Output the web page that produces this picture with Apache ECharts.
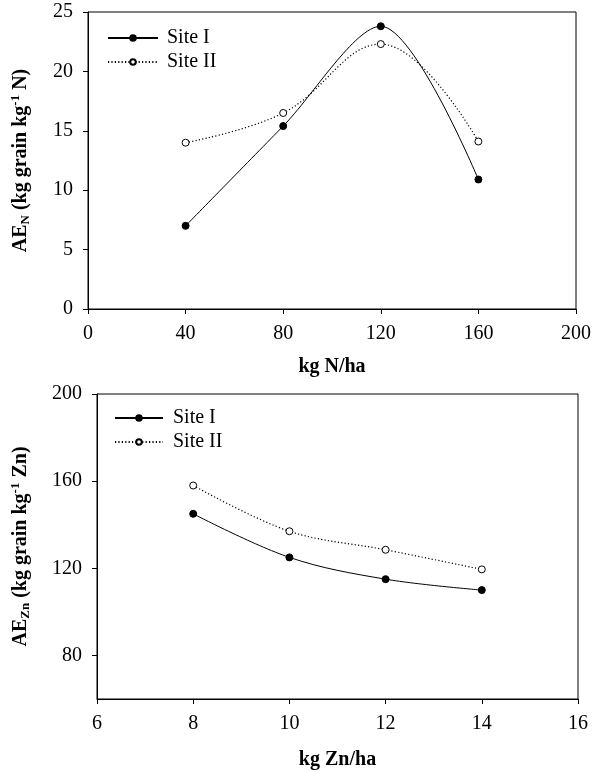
<!DOCTYPE html>
<html>
<head>
<meta charset="utf-8">
<script src="https://cdn.jsdelivr.net/npm/echarts@6/dist/echarts.min.js"></script>
<style>
html,body{margin:0;padding:0;background:#fff;}
#c{width:594px;height:771px;}
</style>
</head>
<body>
<div id="c"></div>
<script>
// Top panel: agronomic efficiency of N
const nRates = [40, 80, 120, 160];
const aeN_site1 = [7.0, 15.4, 23.8, 10.9];
const aeN_site2 = [14.0, 16.5, 22.3, 14.1];
// Bottom panel: agronomic efficiency of Zn
const znRates = [8, 10, 12, 14];
const aeZn_site1 = [145, 125, 115, 110];
const aeZn_site2 = [158, 137, 128.5, 119.5];
const znYTicks = [80, 120, 160, 200];
const seriesNames = ['Site I', 'Site II'];

const FONT = 'Liberation Serif';
const pair = (xs, ys) => xs.map((x, i) => [x, ys[i]]);

const rich = {
  b: {fontFamily: FONT, fontSize: 20, fontWeight: 'bold', color: '#000'},
  sub: {fontFamily: FONT, fontSize: 13, fontWeight: 'bold', color: '#000', padding: [10, 0, 0, 0]},
  sup: {fontFamily: FONT, fontSize: 13, fontWeight: 'bold', color: '#000', padding: [0, 0, 10, 0]}
};

const axisLine = {show: true, lineStyle: {color: '#000', width: 1}};
const axisTick = {show: true, inside: false, length: 5, lineStyle: {color: '#000'}};
const axisLabel = {fontFamily: FONT, fontSize: 20, color: '#000', margin: 15};
const nameStyle = {fontFamily: FONT, fontSize: 20, fontWeight: 'bold', color: '#000'};

function lineSeries(name, data, xi, solid, smooth) {
  return {
    type: 'line', name: name, xAxisIndex: xi, yAxisIndex: xi, data: data,
    smooth: smooth, symbol: 'circle', symbolSize: 7,
    lineStyle: solid ? {color: '#000', width: 1, type: 'solid'} : {color: '#000', width: 1.2, type: [1.2, 2.2]},
    itemStyle: solid ? {color: '#000', borderColor: '#000', borderWidth: 1} : {color: '#fff', borderColor: '#000', borderWidth: 1},
    emphasis: {disabled: true}, animation: false, z: solid ? 3 : 2
  };
}

const chart = echarts.init(document.getElementById('c'), null, {renderer: 'canvas'});
chart.setOption({
  backgroundColor: '#fff',
  animation: false,
  grid: [
    {left: 88, top: 12, right: 18, bottom: 462, show: true, borderColor: '#000', borderWidth: 1, containLabel: false},
    {left: 97, top: 394, right: 16, bottom: 71, show: true, borderColor: '#000', borderWidth: 1, containLabel: false}
  ],
  legend: [
    {orient: 'vertical', left: 107, top: 28, padding: 0, itemWidth: 50, itemHeight: 7, itemGap: 4,
     data: seriesNames.map(n => ({name: n})), selectedMode: false,
     textStyle: {fontFamily: FONT, fontSize: 20, color: '#000', padding: [0, 0, 0, 4]}},
    {orient: 'vertical', left: 114, top: 408, padding: 0, itemWidth: 48, itemHeight: 7, itemGap: 4,
     data: seriesNames.map(n => ({name: n + ' '})), selectedMode: false,
     textStyle: {fontFamily: FONT, fontSize: 20, color: '#000', padding: [0, 0, 0, 5]},
     formatter: n => n.trim()}
  ],
  xAxis: [
    {type: 'value', gridIndex: 0, min: 0, max: 200, interval: 40,
     axisLine: axisLine, axisTick: axisTick, axisLabel: axisLabel, splitLine: {show: false},
     name: 'kg N/ha', nameLocation: 'middle', nameGap: 48, nameTextStyle: nameStyle},
    {type: 'value', gridIndex: 1, min: 6, max: 16, interval: 2,
     axisLine: axisLine, axisTick: axisTick, axisLabel: axisLabel, splitLine: {show: false},
     name: 'kg Zn/ha', nameLocation: 'middle', nameGap: 51, nameTextStyle: nameStyle}
  ],
  yAxis: [
    {type: 'value', gridIndex: 0, min: 0, max: 25, interval: 5,
     axisLine: axisLine, axisTick: axisTick, axisLabel: axisLabel, splitLine: {show: false},
     name: '{b|AE}{sub|N}{b| (kg grain kg}{sup|-1}{b| N)}', nameLocation: 'middle', nameGap: 56,
     nameTextStyle: {rich: rich}},
    {type: 'value', gridIndex: 1, min: 60, max: 200, interval: 20,
     axisLine: axisLine,
     axisTick: Object.assign({}, axisTick, {customValues: znYTicks}),
     axisLabel: Object.assign({}, axisLabel, {customValues: znYTicks}),
     splitLine: {show: false},
     name: '{b|AE}{sub|Zn}{b| (kg grain kg}{sup|-1}{b| Zn)}', nameLocation: 'middle', nameGap: 65,
     nameTextStyle: {rich: rich}}
  ],
  series: [
    lineSeries(seriesNames[0], pair(nRates, aeN_site1), 0, true, 0.3),
    lineSeries(seriesNames[1], pair(nRates, aeN_site2), 0, false, 0.4),
    lineSeries(seriesNames[0] + ' ', pair(znRates, aeZn_site1), 1, true, 0.35),
    lineSeries(seriesNames[1] + ' ', pair(znRates, aeZn_site2), 1, false, 0.35)
  ]
});
</script>
</body>
</html>
